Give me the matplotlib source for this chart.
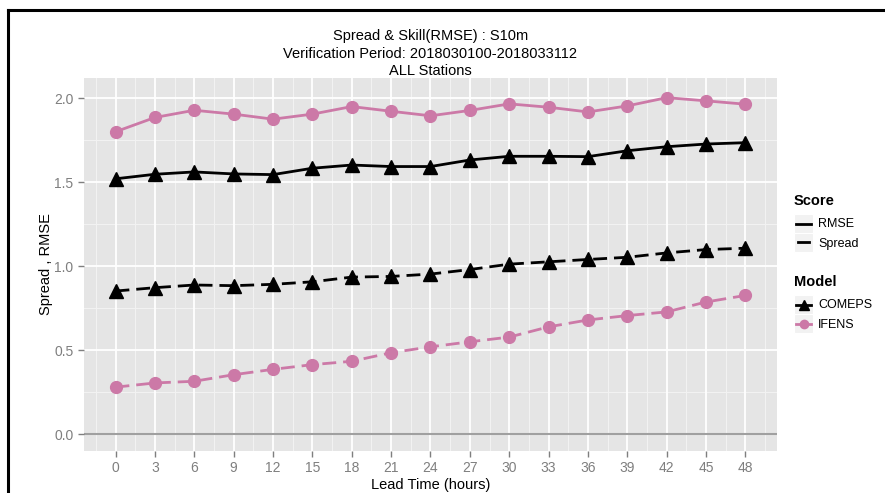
import matplotlib.pyplot as plt
from matplotlib.lines import Line2D
from matplotlib.patches import Rectangle

plt.rcParams['font.family'] = ['Liberation Sans', 'DejaVu Sans']

lead = [0, 3, 6, 9, 12, 15, 18, 21, 24, 27, 30, 33, 36, 39, 42, 45, 48]

comeps_rmse = [1.52, 1.547, 1.561, 1.549, 1.545, 1.583, 1.602, 1.593, 1.593,
               1.632, 1.654, 1.654, 1.652, 1.687, 1.711, 1.727, 1.735]
comeps_spread = [0.852, 0.872, 0.888, 0.884, 0.892, 0.907, 0.935, 0.939, 0.953,
                 0.980, 1.012, 1.026, 1.040, 1.053, 1.079, 1.099, 1.107]
ifens_rmse = [1.80, 1.885, 1.928, 1.905, 1.875, 1.905, 1.95, 1.922, 1.895,
              1.927, 1.966, 1.946, 1.918, 1.954, 2.003, 1.984, 1.964]
ifens_spread = [0.280, 0.305, 0.315, 0.354, 0.386, 0.414, 0.434, 0.485, 0.520,
                0.550, 0.578, 0.639, 0.680, 0.706, 0.728, 0.787, 0.826]

PINK = '#CC79A7'
GREY_TXT = '#7F7F7F'
DASH = (0, (5, 2.5))

W, H = 885, 493


def fx(px):
    return px / W


def fy(py):
    return 1 - py / H


fig = plt.figure(figsize=(8.85, 4.93), dpi=100)
ax = fig.add_axes([fx(84), fy(451), (777 - 84) / W, (451 - 78) / H])
ax.set_facecolor('#E5E5E5')

# minor + major grid like old ggplot theme_grey
for v in [i * 3 + 1.5 for i in range(-1, 17)]:
    ax.axvline(v, color='#F2F2F2', lw=0.8, zorder=0)
for v in [0.25, 0.75, 1.25, 1.75]:
    ax.axhline(v, color='#F2F2F2', lw=0.8, zorder=0)
for v in lead:
    ax.axvline(v, color='white', lw=1.3, zorder=0.5)
for v in [0.0, 0.5, 1.0, 1.5, 2.0]:
    ax.axhline(v, color='white', lw=1.3, zorder=0.5)
ax.axhline(0, color='#A0A0A0', lw=1.5, zorder=1)

ax.plot(lead, ifens_rmse, color=PINK, lw=2, marker='o', ms=8.5, zorder=3)
ax.plot(lead, ifens_spread, color=PINK, lw=2, ls=DASH, marker='o', ms=8.5, zorder=3)
ax.plot(lead, comeps_rmse, color='black', lw=2, marker='^', ms=10, zorder=4)
ax.plot(lead, comeps_spread, color='black', lw=2, ls=DASH, marker='^', ms=10, zorder=4)

ax.set_xlim(-2.4, 50.4)
ax.set_ylim(-0.1, 2.12)
ax.set_xticks(lead)
ax.set_yticks([0.0, 0.5, 1.0, 1.5, 2.0])
ax.set_yticklabels(['0.0', '0.5', '1.0', '1.5', '2.0'])
ax.tick_params(colors=GREY_TXT, labelsize=10, length=4, width=1, labelcolor=GREY_TXT)
for s in ax.spines.values():
    s.set_visible(False)

ax.set_xlabel('Lead Time (hours)', fontsize=10.5, labelpad=2)
ax.set_ylabel('Spread , RMSE', fontsize=10.5, labelpad=1)
ax.set_title('Spread & Skill(RMSE) : S10m\nVerification Period: 2018030100-2018033112\nALL Stations',
             fontsize=10.5, linespacing=1.3, pad=2)

# legend drawn by hand, ggplot style keys
KX0, KX1 = 794, 813


def key_box(y0, y1):
    fig.add_artist(Rectangle((fx(KX0), fy(y1)), (KX1 - KX0) / W, (y1 - y0) / H,
                             facecolor='#F2F2F2', edgecolor='white', lw=0.8,
                             transform=fig.transFigure))


def key_text(y, s):
    fig.text(fx(818), fy(y), s, fontsize=9, va='center', ha='left')


fig.text(fx(794), fy(201), 'Score', fontsize=10.5, fontweight='bold', va='center')
key_box(214, 233)
fig.add_artist(Line2D([fx(KX0 + 2), fx(KX1 - 2)], [fy(223.5)] * 2, color='black', lw=2,
                      transform=fig.transFigure))
key_text(224, 'RMSE')
key_box(233, 252)
fig.add_artist(Line2D([fx(KX0 + 4), fx(KX1 - 4)], [fy(242.5)] * 2, color='black', lw=2,
                      transform=fig.transFigure))
key_text(244, 'Spread')

fig.text(fx(794), fy(282), 'Model', fontsize=10.5, fontweight='bold', va='center')
key_box(295, 314)
fig.add_artist(Line2D([fx(KX0 + 2), fx(KX1 - 2)], [fy(304.5)] * 2, color='black', lw=2,
                      transform=fig.transFigure))
fig.add_artist(Line2D([fx((KX0 + KX1) / 2)], [fy(304.5)], color='black', marker='^', ms=7,
                      transform=fig.transFigure))
key_text(305, 'COMEPS')
key_box(314, 333)
fig.add_artist(Line2D([fx(KX0 + 2), fx(KX1 - 2)], [fy(323.5)] * 2, color=PINK, lw=2,
                      transform=fig.transFigure))
fig.add_artist(Line2D([fx((KX0 + KX1) / 2)], [fy(323.5)], color=PINK, marker='o', ms=6,
                      transform=fig.transFigure))
key_text(325, 'IFENS')

# border of the screenshot
fig.add_artist(Line2D([fx(8), fx(8)], [0, fy(10)], color='black', lw=2.2,
                      transform=fig.transFigure))
fig.add_artist(Line2D([fx(8), 1], [fy(10), fy(10)], color='black', lw=2.2,
                      transform=fig.transFigure))

fig.savefig('out.png', dpi=100)
